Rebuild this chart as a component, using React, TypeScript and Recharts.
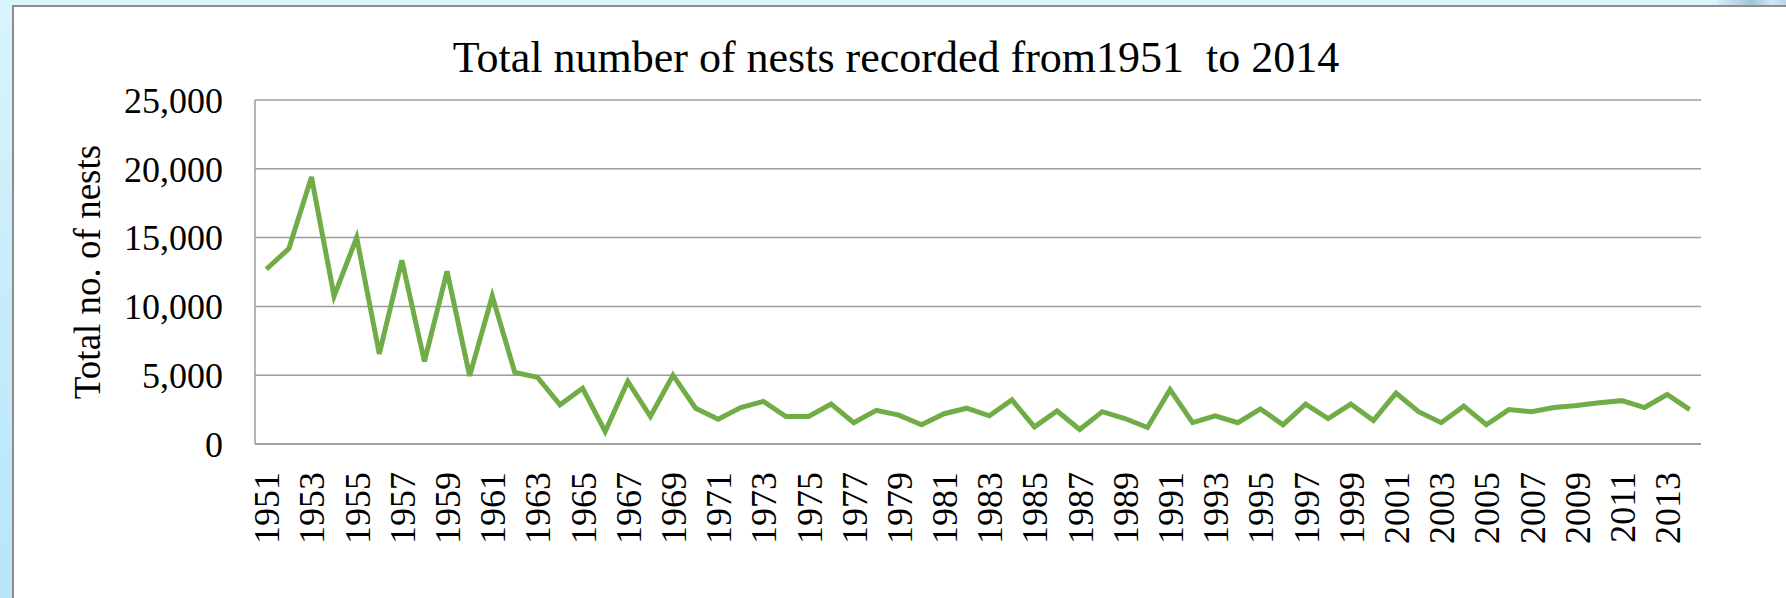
import { LineChart, Line, XAxis, YAxis, CartesianGrid } from 'recharts';

// nesting seasons, one point per year
const years = [
  '1951', '1952', '1953', '1954', '1955', '1956', '1957', '1958', '1959', '1960',
  '1961', '1962', '1963', '1964', '1965', '1966', '1967', '1968', '1969', '1970',
  '1971', '1972', '1973', '1974', '1975', '1976', '1977', '1978', '1979', '1980',
  '1981', '1982', '1983', '1984', '1985', '1986', '1987', '1988', '1989', '1990',
  '1991', '1992', '1993', '1994', '1995', '1996', '1997', '1998', '1999', '2000',
  '2001', '2002', '2003', '2004', '2005', '2006', '2007', '2008', '2009', '2010',
  '2011', '2012', '2013', '2014',
];

const nests = [
  12700, 14200, 19400, 10750, 15000, 6550, 13350, 6000, 12550, 4950,
  10750, 5200, 4850, 2850, 4050, 900, 4550, 2000, 5000, 2600,
  1800, 2650, 3100, 2000, 2000, 2900, 1550, 2450, 2100, 1400,
  2200, 2600, 2050, 3200, 1250, 2400, 1050, 2350, 1850, 1200,
  3950, 1550, 2050, 1550, 2550, 1400, 2900, 1850, 2900, 1700,
  3700, 2350, 1550, 2750, 1400, 2500, 2350, 2650, 2800, 3000,
  3150, 2650, 3600, 2500,
];

const yTicks = [0, 5000, 10000, 15000, 20000, 25000];

const data = years.map((year, i) => ({ year, nests: nests[i] }));

const FONT = '"Liberation Serif", "Times New Roman", serif';
const GRID = '#9c9c9c';

function YearTick({ x, y, payload }: any) {
  return (
    <text
      x={x}
      y={y}
      dy={13}
      transform={`rotate(-90 ${x} ${y})`}
      textAnchor="end"
      fontSize={36}
      fontFamily={FONT}
      fill="#000"
    >
      {payload.value}
    </text>
  );
}

function AxisTitle({ viewBox }: any) {
  const x = viewBox.x + 100;
  const y = viewBox.y + viewBox.height / 2;
  return (
    <text
      x={x}
      y={y}
      transform={`rotate(-90 ${x} ${y})`}
      textAnchor="middle"
      fontSize={37}
      fontFamily={FONT}
      fill="#000"
    >
      Total no. of nests
    </text>
  );
}

export default function App() {
  return (
    <div
      style={{
        position: 'fixed',
        left: 0,
        top: 0,
        width: 1786,
        height: 598,
        overflow: 'hidden',
        background: 'linear-gradient(180deg, #d9f4fc 0%, #c6ecfa 50%, #b8e5f8 100%)',
      }}
    >
      {/* slide decoration peeking in at the top right */}
      <div
        style={{
          position: 'absolute',
          right: -10,
          top: -14,
          width: 80,
          height: 24,
          borderRadius: 12,
          background: 'linear-gradient(90deg, #d7eef8 0%, #a3c3d8 45%, #cfe6f3 70%, #a9c8dc 100%)',
        }}
      />
      <div
        style={{
          position: 'absolute',
          left: 12,
          top: 5,
          width: 1800,
          height: 620,
          background: '#fff',
          border: '2px solid #8c8c8c',
        }}
      />
      <svg
        width={1786}
        height={100}
        style={{ position: 'absolute', left: 0, top: 0 }}
      >
        <text
          x={896}
          y={72}
          textAnchor="middle"
          fontSize={44}
          fontFamily={FONT}
          fill="#000"
          style={{ whiteSpace: 'pre' }}
        >
          {'Total number of nests recorded from1951  to 2014'}
        </text>
      </svg>
      <LineChart
        width={1786}
        height={598}
        data={data}
        margin={{ top: 100, right: 85, bottom: 0, left: 0 }}
        style={{ position: 'absolute', left: 0, top: 0 }}
      >
        <CartesianGrid vertical={false} stroke={GRID} strokeWidth={1.5} />
        <XAxis
          dataKey="year"
          interval={1}
          height={154}
          padding={{ left: 11.3, right: 11.3 }}
          axisLine={{ stroke: GRID, strokeWidth: 1.5 }}
          tickLine={false}
          tickSize={0}
          tickMargin={28}
          tick={<YearTick />}
        />
        <YAxis
          width={255}
          domain={[0, 25000]}
          ticks={yTicks}
          interval={0}
          axisLine={{ stroke: GRID, strokeWidth: 1.5 }}
          tickLine={false}
          tickSize={0}
          tickMargin={32}
          tick={{ fontSize: 36, fontFamily: FONT, fill: '#000' }}
          tickFormatter={(v: number) => v.toLocaleString('en-US')}
          label={<AxisTitle />}
        />
        <Line
          type="linear"
          dataKey="nests"
          stroke="#70ad47"
          strokeWidth={5}
          dot={false}
          isAnimationActive={false}
        />
      </LineChart>
    </div>
  );
}
